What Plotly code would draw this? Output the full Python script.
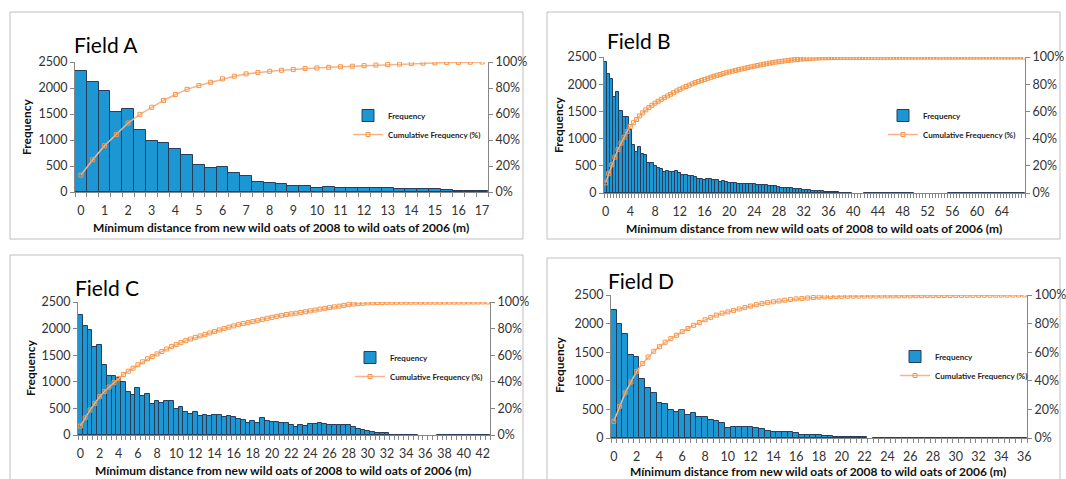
import numpy as np
import plotly.graph_objects as go

# ---------------- data ----------------
A_bins = np.arange(0, 17.01, 0.5)
A_freq = [2330, 2120, 1940, 1540, 1595, 1195, 975, 940, 825, 710,
          520, 455, 480, 365, 315, 185, 170, 145, 120, 120,
          75, 95, 75, 75, 75, 75, 75, 65, 65, 60,
          50, 38, 26, 26, 26]

B_bins = np.arange(0, 67.51, 0.5)
B_freq = ([2400, 2190, 2090, 1770, 1850, 1510, 1390, 1390, 1160, 880,
           760, 850, 720, 700, 550, 550, 490, 460, 450, 390,
           410, 390, 390, 410, 370, 340, 330, 320, 310, 290,
           260, 250, 240, 260, 250, 230, 230, 210, 220, 200,
           180, 180, 180, 170, 170, 170, 170, 160, 160, 150,
           150, 140, 140, 130, 130, 120, 110, 100, 100, 90,
           90, 80, 70, 70, 60, 55, 50, 45, 40, 35,
           30, 25, 20, 15, 12, 10]
          + [5, 5, 5, 5]
          + [0, 0, 0, 0]
          + [4] * 16
          + [0] * 11
          + [1] * 25)

C_bins = np.arange(0, 42.51, 0.5)
C_freq = ([2260, 2040, 1970, 1650, 1700, 1310, 1110, 1110, 1070, 1000,
           800, 760, 880, 740, 770, 580, 630, 610, 630, 640,
           490, 530, 440, 390, 430, 360, 380, 360, 380, 380,
           340, 350, 330, 310, 290, 230, 260, 230, 320, 260,
           250, 250, 230, 220, 180,
           150, 195, 175, 215, 215, 225, 200, 180, 190, 180,
           195, 180, 150, 115, 95, 75, 50, 40, 40, 30,
           8, 5, 5, 5, 5, 5]
          + [0, 0, 0, 0]
          + [4] * 11)

D_bins = np.arange(0, 36.01, 0.5)
D_freq = ([2230, 1990, 1810, 1450, 1420, 1040, 875, 780, 610, 590,
           490, 450, 490, 410, 430, 370, 370, 320, 300, 260,
           170, 200, 190, 190, 200, 180, 150, 130, 110, 110,
           100, 100, 80, 60, 60, 60, 60, 40,
           30, 25, 10, 10, 10, 10, 10]
          + [0]
          + [5] * 27)

titles = ["Field A", "Field B", "Field C", "Field D"]
x_title = "Mínimum distance from new wild oats of 2008 to wild oats of 2006 (m)"
y_title = "Frequency"
name_bar = "Frequency"
name_line = "Cumulative Frequency (%)"

# ---------------- layout geometry (pixels) ----------------
W, H = 1066, 479
FONT = "Lato"
panels = [
    dict(bins=A_bins, freq=A_freq, x=(75, 488), y=(62, 192), rng=(-0.25, 17.25), dt=1,
         box=(10, 12, 523, 239), title=(72, 44), legend=(348, 101),
         xt=(281, 228), yt=(26, 127)),
    dict(bins=B_bins, freq=B_freq, x=(604, 1025), y=(57, 193), rng=(-0.25, 67.75), dt=4,
         box=(547, 12, 1060, 239), title=(605, 40), legend=(883, 101),
         xt=(814, 229), yt=(558, 125)),
    dict(bins=C_bins, freq=C_freq, x=(78, 490), y=(302, 435), rng=(-0.25, 42.75), dt=2,
         box=(10, 255, 523, 490), title=(73, 287), legend=(350, 343),
         xt=(283, 470), yt=(30, 368)),
    dict(bins=D_bins, freq=D_freq, x=(611, 1027), y=(295, 438), rng=(-0.25, 36.25), dt=2,
         box=(547, 258, 1060, 490), title=(606, 280), legend=(895, 342),
         xt=(818, 471), yt=(559, 365)),
]

fig = go.Figure()
annotations = []
shapes = []
layout = {}

for i, p in enumerate(panels):
    k = i + 1
    xa = f"x{2*i+1}" if i else "x"
    ya = f"y{2*i+1}" if i else "y"
    ya2 = f"y{2*i+2}"
    leg = "legend" if i == 0 else f"legend{k}"
    freq = np.array(p["freq"], dtype=float)
    cum = np.cumsum(freq) / freq.sum() * 100
    bar_y = [v if v > 0 else None for v in freq]

    fig.add_trace(go.Bar(x=p["bins"], y=bar_y, name=name_bar, xaxis=xa, yaxis=ya,
                         width=0.5, marker=dict(color="#1C97D4",
                                                line=dict(color="#2A3D58", width=1)),
                         legend=leg))
    fig.add_trace(go.Scatter(x=p["bins"], y=cum, name=name_line, xaxis=xa, yaxis=ya2,
                             mode="lines+markers",
                             line=dict(color="#F9B38A", width=1.5),
                             marker=dict(symbol="square-open", size=4, color="#F79646",
                                         line=dict(width=1, color="#F79646")),
                             legend=leg))

    xd = [p["x"][0] / W, p["x"][1] / W]
    yd = [1 - p["y"][1] / H, 1 - p["y"][0] / H]
    xkey = "xaxis" if i == 0 else f"xaxis{2*i+1}"
    ykey = "yaxis" if i == 0 else f"yaxis{2*i+1}"
    y2key = f"yaxis{2*i+2}"
    layout[xkey] = dict(domain=xd, anchor=ya, range=list(p["rng"]), tick0=0, dtick=p["dt"],
                        ticks="", showline=True, linecolor="#868686", linewidth=1,
                        showgrid=False, zeroline=False, ticklabelstandoff=7,
                        tickfont=dict(family=FONT, size=12.5, color="#333"),
                        minor=dict(ticks="outside", tick0=0.25, dtick=0.5, ticklen=4,
                                   tickcolor="#868686", showgrid=False))
    layout[ykey] = dict(domain=yd, anchor=xa, range=[0, 2500], dtick=500, ticks="outside",
                        ticklen=4, tickcolor="#868686", showline=True, linecolor="#868686",
                        showgrid=False, zeroline=False,
                        tickfont=dict(family=FONT, size=12.5, color="#333"))
    layout[y2key] = dict(domain=yd, anchor=xa, overlaying=ya, side="right", range=[0, 100],
                         dtick=20, ticksuffix="%", ticks="outside", ticklen=4,
                         tickcolor="#868686", showline=True, linecolor="#868686",
                         showgrid=False, zeroline=False,
                         tickfont=dict(family=FONT, size=12.5, color="#333"))
    layout[leg] = dict(x=p["legend"][0] / W, y=1 - p["legend"][1] / H, xanchor="left",
                       yanchor="top", bgcolor="rgba(0,0,0,0)", tracegroupgap=0,
                       itemwidth=30,
                       font=dict(family=FONT, size=8, color="#222", weight="bold"))

    bx0, by0, bx1, by1 = p["box"]
    shapes.append(dict(type="rect", xref="paper", yref="paper", layer="below",
                       x0=bx0 / W, x1=bx1 / W, y0=1 - by1 / H, y1=1 - by0 / H,
                       line=dict(color="#BFBFBF", width=1)))
    annotations.append(dict(text=titles[i], xref="paper", yref="paper",
                            x=p["title"][0] / W, y=1 - p["title"][1] / H,
                            xanchor="left", yanchor="middle", showarrow=False,
                            font=dict(family=FONT, size=21, color="#000")))
    annotations.append(dict(text=x_title, xref="paper", yref="paper",
                            x=p["xt"][0] / W, y=1 - p["xt"][1] / H,
                            xanchor="center", yanchor="middle", showarrow=False,
                            font=dict(family=FONT, size=12, color="#111", weight="bold")))
    annotations.append(dict(text=y_title, xref="paper", yref="paper",
                            x=p["yt"][0] / W, y=1 - p["yt"][1] / H, textangle=-90,
                            xanchor="center", yanchor="middle", showarrow=False,
                            font=dict(family=FONT, size=12, color="#111", weight="bold")))

fig.update_layout(width=W, height=H, margin=dict(l=0, r=0, t=0, b=0, autoexpand=False),
                  paper_bgcolor="white", plot_bgcolor="rgba(0,0,0,0)",
                  bargap=0, barmode="overlay", showlegend=True,
                  shapes=shapes, annotations=annotations, **layout)

fig.write_html("out.html", config={"displayModeBar": False},
               post_script="document.body.style.margin='0';"
                           "document.documentElement.style.overflow='hidden';"
                           "document.body.style.overflow='hidden';")
